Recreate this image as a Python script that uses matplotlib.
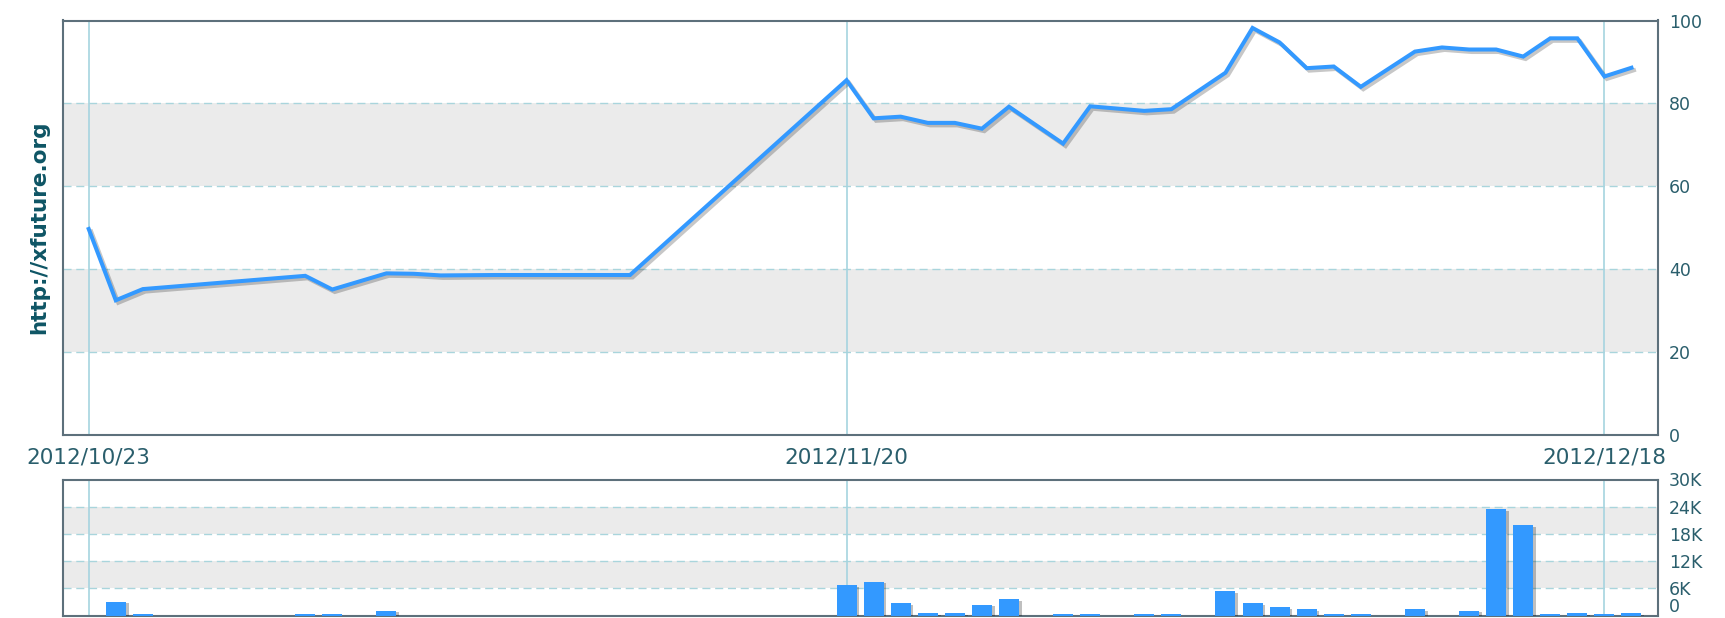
import matplotlib
matplotlib.use("Agg")
import matplotlib.pyplot as plt
import matplotlib.dates as mdates
import matplotlib.patheffects as pe
import pandas as pd

# ---------------- data ----------------
line_dates = ["2012-10-23", "2012-10-24", "2012-10-25", "2012-10-31", "2012-11-01",
              "2012-11-03", "2012-11-04", "2012-11-05", "2012-11-07", "2012-11-12",
              "2012-11-20", "2012-11-21", "2012-11-22", "2012-11-23", "2012-11-24",
              "2012-11-25", "2012-11-26", "2012-11-28", "2012-11-29", "2012-12-01",
              "2012-12-02", "2012-12-04", "2012-12-05", "2012-12-06", "2012-12-07",
              "2012-12-08", "2012-12-09", "2012-12-11", "2012-12-12", "2012-12-13",
              "2012-12-14", "2012-12-15", "2012-12-16", "2012-12-17", "2012-12-18",
              "2012-12-19"]
line_values = [49.7, 32.5, 35.2, 38.4, 35.1,
               39.0, 38.9, 38.5, 38.6, 38.6,
               85.6, 76.4, 76.8, 75.3, 75.3,
               73.9, 79.2, 70.3, 79.3, 78.2,
               78.6, 87.4, 98.2, 94.7, 88.5,
               88.9, 84.0, 92.5, 93.5, 93.0,
               93.0, 91.3, 95.7, 95.7, 86.5,
               88.6]

bar_dates = ["2012-10-24", "2012-10-25", "2012-10-31", "2012-11-01", "2012-11-03",
             "2012-11-20", "2012-11-21", "2012-11-22", "2012-11-23", "2012-11-24",
             "2012-11-25", "2012-11-26", "2012-11-28", "2012-11-29", "2012-12-01",
             "2012-12-02", "2012-12-04", "2012-12-05", "2012-12-06", "2012-12-07",
             "2012-12-08", "2012-12-09", "2012-12-11", "2012-12-13", "2012-12-14",
             "2012-12-15", "2012-12-16", "2012-12-17", "2012-12-18", "2012-12-19"]
bar_values = [3000, 250, 250, 250, 1000,
              6700, 7500, 2700, 500, 500,
              2300, 3600, 250, 250, 250,
              250, 5300, 2700, 1800, 1400,
              300, 300, 1400, 1000, 23400,
              19900, 300, 500, 300, 500]

x_tick_dates = ["2012-10-23", "2012-11-20", "2012-12-18"]
x_tick_labels = ["2012/10/23", "2012/11/20", "2012/12/18"]
top_ticks = [0, 20, 40, 60, 80, 100]
top_tick_labels = ["0", "20", "40", "60", "80", "100"]
bot_ticks = [0, 6000, 12000, 18000, 24000, 30000]
bot_tick_labels = ["0", "6K", "12K", "18K", "24K", "30K"]
y_title = "http://xfuture.org"

# ---------------- style ----------------
W, H = 1725, 618
LINE_C = "#3399ff"
BAND_C = "#ebebeb"
GRID_C = "#a9d5dc"
VLINE_C = "#a6d4df"
SPINE_C = "#5d707b"
TEXT_C = "#2a5e6c"
TITLE_C = "#0e5565"

fig = plt.figure(figsize=(W / 100, H / 100), dpi=100)
fig.patch.set_facecolor("white")

def rect(l, t, r, b):
    return [l / W, 1 - b / H, (r - l) / W, (b - t) / H]

ax = fig.add_axes(rect(63, 20.5, 1658, 435))
axb = fig.add_axes(rect(63, 479.5, 1658, 615.5))

ld = pd.to_datetime(line_dates)
bd = pd.to_datetime(bar_dates)
td = pd.to_datetime(x_tick_dates)
t0 = mdates.date2num(td[0])
xlim = (t0 - 0.95, t0 + 57.98)

def style(a, ticks, labels):
    a.set_xlim(*xlim)
    a.set_ylim(ticks[0], ticks[-1])
    a.set_facecolor("white")
    for i in (1, 3):
        a.axhspan(ticks[i], ticks[i + 1], color=BAND_C, zorder=0, lw=0)
    for v in ticks[1:-1]:
        a.axhline(v, color=GRID_C, lw=1.0, dashes=(5.8, 3.4), zorder=1)
    for d in td:
        a.axvline(mdates.date2num(d), color=VLINE_C, lw=1.2, zorder=1)
    for s in a.spines.values():
        s.set_color(SPINE_C)
        s.set_linewidth(1.5)
    a.yaxis.tick_right()
    a.set_yticks(ticks)
    a.set_yticklabels(labels)
    a.tick_params(axis="y", length=0, pad=8, labelsize=12.5, labelcolor=TEXT_C)
    a.tick_params(axis="x", length=0)

style(ax, top_ticks, top_tick_labels)
style(axb, bot_ticks, bot_tick_labels)

# keep the lowest label of the small panel inside the picture
axb.get_yticklabels()[0].set_verticalalignment("bottom")

# line
ax.plot(mdates.date2num(ld), line_values, color=LINE_C, lw=2.9, zorder=3,
        solid_joinstyle="miter",
        path_effects=[pe.SimpleLineShadow(offset=(1.8, -1.8), shadow_color="black", alpha=0.22),
                      pe.Normal()])
ax.set_xticks(mdates.date2num(td))
ax.set_xticklabels(x_tick_labels)
ax.tick_params(axis="x", pad=9, labelsize=15.5, labelcolor=TEXT_C)
ax.set_ylabel(y_title, color=TITLE_C, fontsize=15.5, fontweight="bold", labelpad=10)
ax.yaxis.set_label_position("left")

# bars
axb.bar(mdates.date2num(bd), bar_values, width=0.74, color=LINE_C, zorder=3,
        path_effects=[pe.SimplePatchShadow(offset=(2, -1), shadow_rgbFace="black", alpha=0.25),
                      pe.Normal()])
axb.set_xticks([])

fig.savefig("out.png", dpi=100, facecolor="white")
